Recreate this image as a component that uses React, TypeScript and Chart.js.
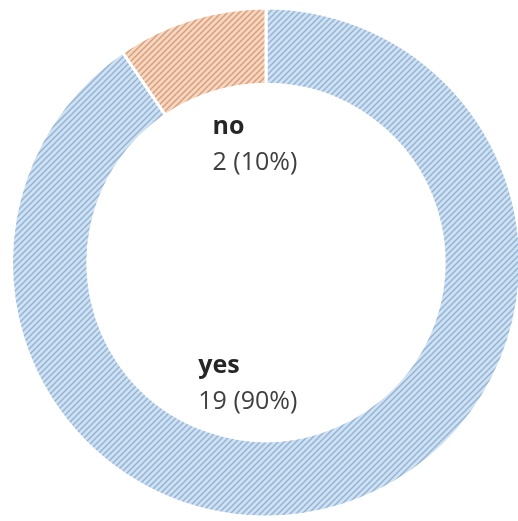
import React, { useEffect, useRef } from "react";
import { Chart, registerables } from "chart.js";

Chart.register(...registerables);

const categories = ["yes", "no"];
const values = [19, 2];
const valueLabels = ["19 (90%)", "2 (10%)"];
const bgColors = ["#cde1f4", "#fad5bd"];
const lineColors = ["#97b1d0", "#cf9f80"];

function makePattern(bg: string, fg: string): CanvasPattern | string {
  const size = 6;
  const c = document.createElement("canvas");
  c.width = size;
  c.height = size;
  const ctx = c.getContext("2d");
  if (!ctx) return bg;
  ctx.fillStyle = bg;
  ctx.fillRect(0, 0, size, size);
  ctx.strokeStyle = fg;
  ctx.lineWidth = 1.4;
  for (let k = 0; k <= 2; k++) {
    const cc = k * size;
    ctx.beginPath();
    ctx.moveTo(cc + size, -size);
    ctx.lineTo(-size, cc + size);
    ctx.stroke();
  }
  const p = ctx.createPattern(c, "repeat");
  return p || bg;
}

// label placement as fractions of the inner radius, relative to the doughnut center
const labelOffsets = [
  { dx: -0.38, dy: 0.62 },
  { dx: -0.30, dy: -0.72 },
];

const labelPlugin = {
  id: "innerLabels",
  afterDatasetsDraw(chart: any) {
    const meta = chart.getDatasetMeta(0);
    const ctx = chart.ctx as CanvasRenderingContext2D;
    ctx.save();
    ctx.textAlign = "left";
    ctx.textBaseline = "alphabetic";
    meta.data.forEach((arc: any, i: number) => {
      const r = arc.innerRadius;
      const x = arc.x + labelOffsets[i].dx * r;
      const y = arc.y + labelOffsets[i].dy * r;
      ctx.fillStyle = "#262626";
      ctx.font = "bold 25px 'Open Sans'";
      ctx.fillText(categories[i], x, y);
      ctx.fillStyle = "#404040";
      ctx.font = "25px 'Open Sans'";
      ctx.fillText(valueLabels[i], x, y + 36);
    });
    ctx.restore();
  },
};

export default function App() {
  const ref = useRef<HTMLCanvasElement | null>(null);
  useEffect(() => {
    document.body.style.margin = "0";
    document.body.style.overflow = "hidden";
    if (!ref.current) return;
    const patterns = bgColors.map((b, i) => makePattern(b, lineColors[i]));
    const chart = new Chart(ref.current, {
      type: "doughnut",
      data: {
        labels: categories,
        datasets: [
          {
            data: values,
            backgroundColor: patterns as any,
            borderColor: "#ffffff",
            borderWidth: 3,
          },
        ],
      },
      options: {
        animation: false,
        responsive: true,
        maintainAspectRatio: false,
        cutout: "70%",
        layout: { padding: { left: 10, right: 10, top: 4, bottom: 0 } },
        plugins: {
          legend: { display: false },
          tooltip: { enabled: false },
        },
      },
      plugins: [labelPlugin],
    });
    return () => chart.destroy();
  }, []);
  return (
    <div style={{ position: "fixed", left: 0, top: 0, width: 518, height: 521, overflow: "hidden", background: "#fff" }}>
      <div style={{ position: "absolute", left: 0, top: 0, width: 532, height: 521 }}>
        <canvas ref={ref} />
      </div>
    </div>
  );
}
